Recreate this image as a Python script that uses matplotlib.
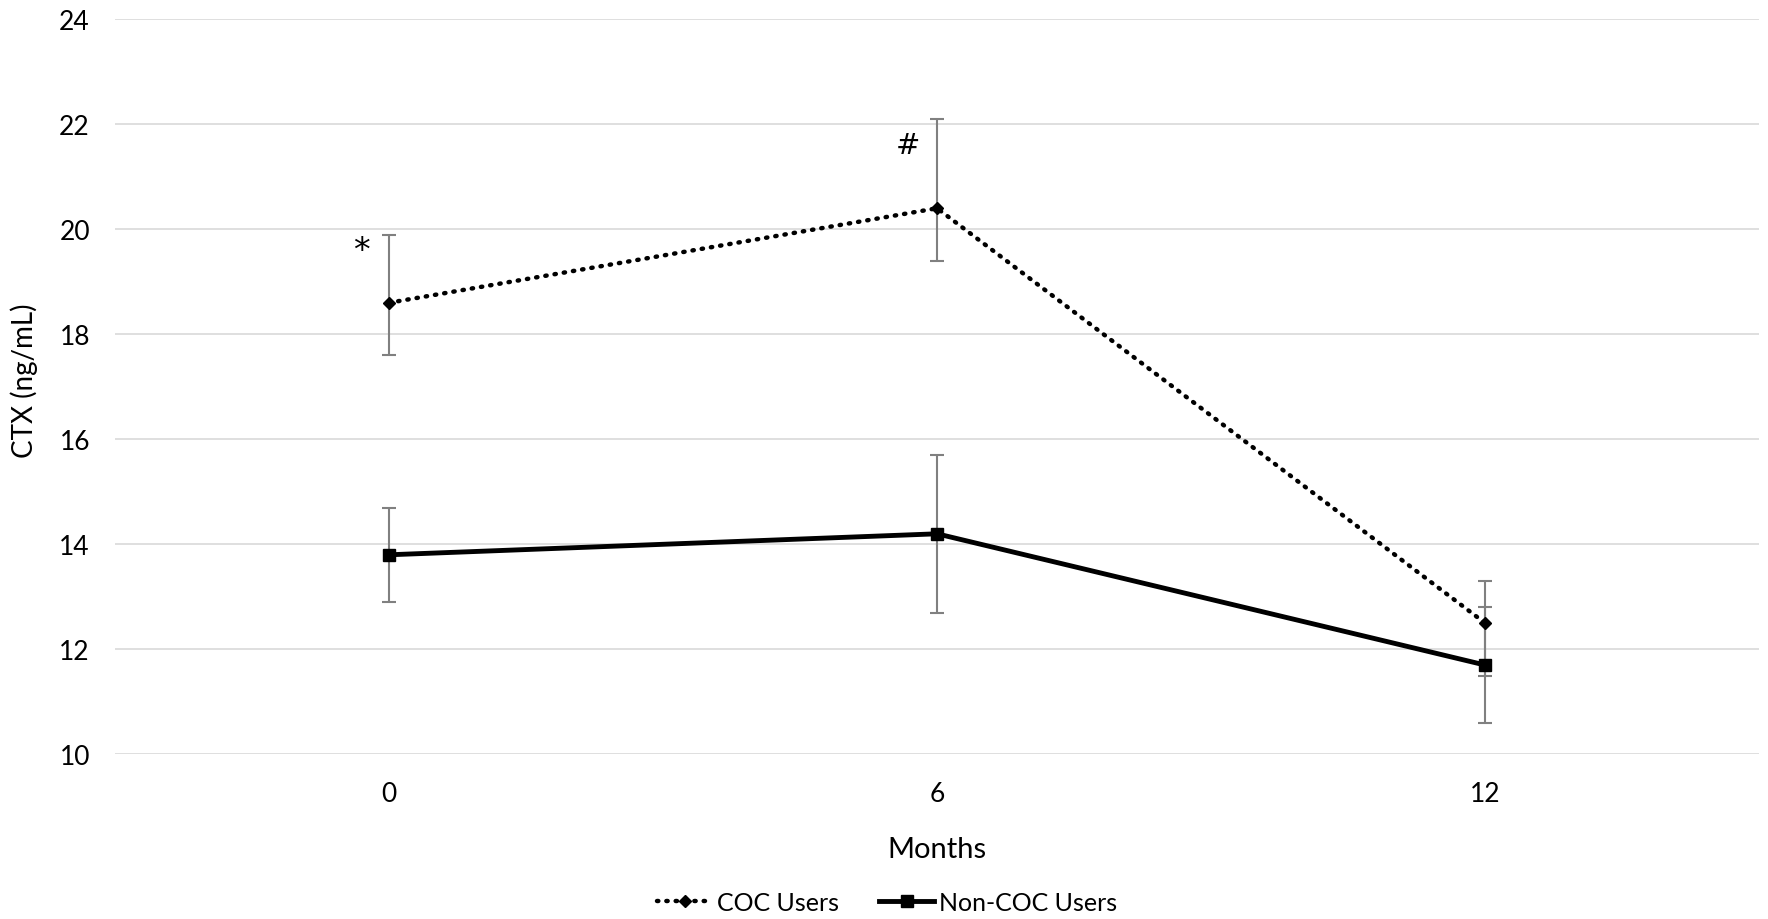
import matplotlib.pyplot as plt
import numpy as np

months = ["0", "6", "12"]

coc_mean = [18.6, 20.4, 12.5]
coc_low = [17.6, 19.4, 11.5]
coc_high = [19.9, 22.1, 13.3]

non_mean = [13.8, 14.2, 11.7]
non_low = [12.9, 12.7, 10.6]
non_high = [14.7, 15.7, 12.8]

y_ticks = [10, 12, 14, 16, 18, 20, 22, 24]

fig = plt.figure(figsize=(17.68, 9.2), dpi=100)
ax = fig.add_axes([0.065, 0.179, 0.93, 0.799])

x = np.arange(len(months))

# error bars (grey, asymmetric)
coc_err = [np.subtract(coc_mean, coc_low), np.subtract(coc_high, coc_mean)]
non_err = [np.subtract(non_mean, non_low), np.subtract(non_high, non_mean)]
ax.errorbar(x, coc_mean, yerr=coc_err, fmt="none", ecolor="#808080",
            elinewidth=1.5, capsize=5, capthick=1.5, zorder=2)
ax.errorbar(x, non_mean, yerr=non_err, fmt="none", ecolor="#808080",
            elinewidth=1.5, capsize=5, capthick=1.5, zorder=2)

ax.plot(x, coc_mean, color="black", linestyle=(0, (0.3, 1.8)), linewidth=3.2,
        dash_capstyle="round", marker="D", markersize=6, label="COC Users", zorder=3)
ax.plot(x, non_mean, color="black", linestyle="-", linewidth=3.5,
        marker="s", markersize=9, label="Non-COC Users", zorder=3)

# significance marks
ax.text(x[0] - 0.05, 19.6, "*", fontsize=24, ha="center", va="center", family="DejaVu Sans")
ax.text(x[1] - 0.053, 21.6, "#", fontsize=21, ha="center", va="center", family="DejaVu Sans")

ax.set_xlim(-0.5, 2.5)
ax.set_ylim(10, 24)
ax.set_xticks(x)
ax.set_xticklabels(months, family="Lato", fontsize=19)
ax.set_yticks(y_ticks)
ax.set_yticklabels([str(v) for v in y_ticks], family="Lato", fontsize=19)
ax.tick_params(length=0, pad=18)
ax.tick_params(axis="x", pad=19)
ax.grid(axis="y", color="#d9d9d9", linewidth=1.2)
ax.set_axisbelow(True)
for s in ax.spines.values():
    s.set_visible(False)

ax.set_xlabel("Months", family="Lato", fontsize=21, labelpad=22)
ax.set_ylabel("CTX (ng/mL)", family="Lato", fontsize=20)
ax.yaxis.set_label_coords(-0.047, 0.51)

fig.legend(loc="center", bbox_to_anchor=(0.502, 0.018), ncol=2, frameon=False,
           prop={"family": "Lato", "size": 18}, handlelength=2.2, columnspacing=1.6,
           handletextpad=0.2)

fig.savefig("out.png", dpi=100)
